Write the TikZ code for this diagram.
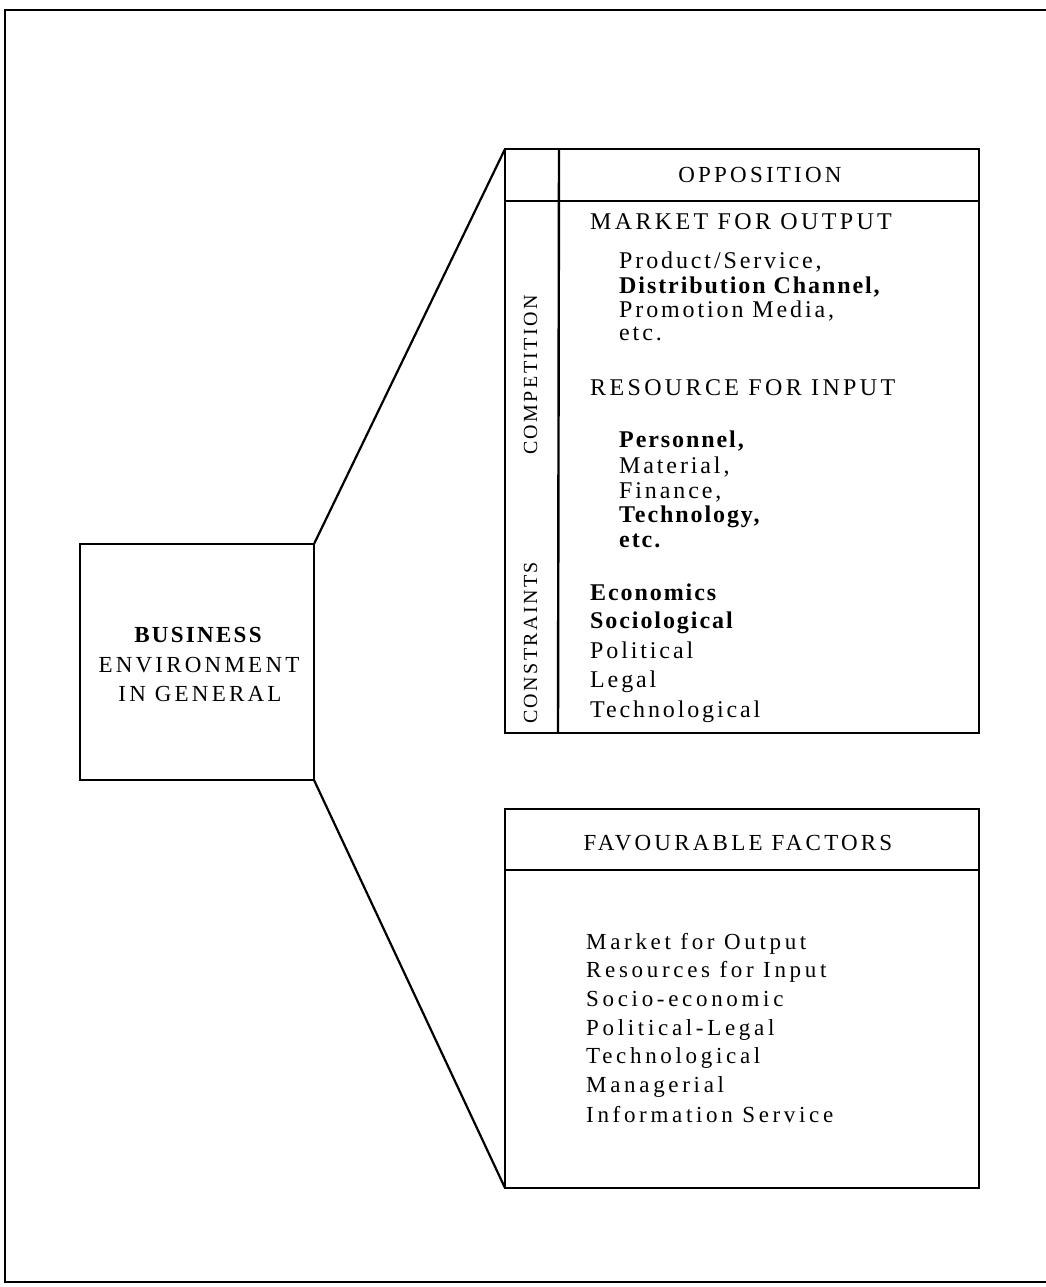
\documentclass[tikz,border=0pt]{standalone}
\usepackage{fontspec}
\setmainfont{Liberation Serif}[LetterSpace=12]
\begin{document}
\begin{tikzpicture}[x=1pt,y=-1pt,
  frame/.style={draw, line width=1.6pt},
  box/.style={draw, line width=2.4pt, inner sep=0pt, outer sep=0pt},
  rule/.style={line width=2.4pt},
  link/.style={line width=2.2pt},
  txt/.style={inner sep=0pt, anchor=base west, font=\fontsize{24}{28}\selectfont},
  boldtxt/.style={txt, font=\fontsize{24}{28}\selectfont\bfseries\addfontfeature{LetterSpace=8}},
  head/.style={inner sep=0pt, anchor=base,
    font=\fontsize{23}{27}\selectfont\addfontfeature{LetterSpace=14}},
  sub/.style={inner sep=0pt, anchor=base west,
    font=\fontsize{24}{28}\selectfont\addfontfeature{LetterSpace=14}},
  side/.style={inner sep=0pt, anchor=base, rotate=90,
    font=\fontsize{20}{24}\selectfont\addfontfeature{LetterSpace=12}},
  fav/.style={inner sep=0pt, anchor=base west,
    font=\fontsize{23}{27}\selectfont\addfontfeature{LetterSpace=16}}]
\useasboundingbox (0,0) rectangle (1046,1287);

% outer frame (runs off the right edge)
\draw[frame] (1060,10) -- (5,10) -- (5,1282) -- (1060,1282);

% main boxes
\node[box, minimum width=234pt, minimum height=236pt] (env) at (197,662) {};
\node[box, minimum width=474pt, minimum height=584pt] (opp) at (742,441) {};
\node[box, minimum width=474pt, minimum height=379pt] (fav) at (742,998.5) {};

% inner rules of the upper box
\coordinate (oh1) at (505,201);
\coordinate (oh2) at (979,201);
\coordinate (oc1) at (559,149);
\coordinate (oc2) at (558,733);
\draw[rule] (oh1) -- (oh2);
\draw[rule] (oc1) -- (oc2);
% header rule of the lower box
\coordinate (fh1) at (505,870);
\coordinate (fh2) at (979,870);
\draw[rule] (fh1) -- (fh2);

% fan-out lines
\draw[link] (env.north east) -- (opp.north west);
\draw[link] (env.south east) -- (fav.south west);

% left box title
\node[head, font=\fontsize{23}{27}\selectfont\bfseries\addfontfeature{LetterSpace=10}] (t1) at (198,642) {BUSINESS};
\node[head] (t2) at (199,672) {ENVIRONMENT};
\node[head] (t3) at (200,701) {IN GENERAL};

% upper box
\node[head] (oppt) at (760,182) {OPPOSITION};
\node[side] (comp) at (537,375) {COMPETITION};
\node[side] (cons) at (537,643) {CONSTRAINTS};

\node[sub] (mo) at (590,229) {MARKET FOR OUTPUT};
\node[txt] (m1) at (619,268) {Product/Service,};
\node[boldtxt] (m2) at (619,293) {Distribution Channel,};
\node[txt] (m3) at (619,317) {Promotion Media,};
\node[txt] (m4) at (619,340) {etc.};

\node[sub] (ri) at (590,395) {RESOURCE FOR INPUT};
\node[boldtxt] (r1) at (619,447) {Personnel,};
\node[txt] (r2) at (619,473) {Material,};
\node[txt] (r3) at (619,498) {Finance,};
\node[boldtxt] (r4) at (619,522) {Technology,};
\node[boldtxt] (r5) at (619,547) {etc.};

\node[boldtxt] (c1) at (590,600) {Economics};
\node[boldtxt] (c2) at (590,628) {Sociological};
\node[txt] (c3) at (590,658) {Political};
\node[txt] (c4) at (590,687) {Legal};
\node[txt] (c5) at (590,717) {Technological};

% lower box
\node[head] (favt) at (738,850) {FAVOURABLE FACTORS};
\node[fav] (f1) at (586,949) {Market for Output};
\node[fav] (f2) at (586,977) {Resources for Input};
\node[fav] (f3) at (586,1006) {Socio-economic};
\node[fav] (f4) at (586,1035) {Political-Legal};
\node[fav] (f5) at (586,1063) {Technological};
\node[fav] (f6) at (586,1092) {Managerial};
\node[fav] (f7) at (586,1122) {Information Service};
\end{tikzpicture}
\end{document}
